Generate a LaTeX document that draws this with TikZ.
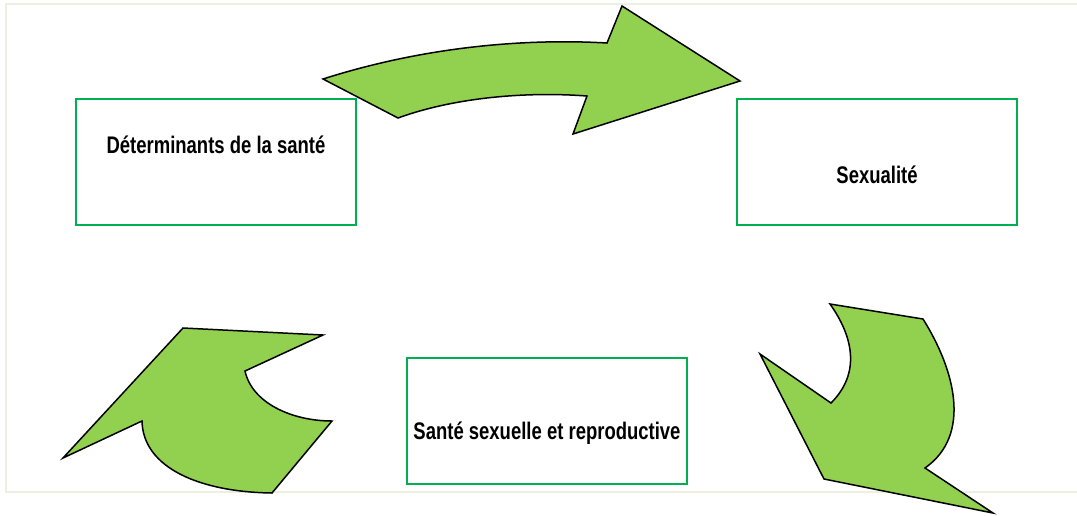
\documentclass[tikz,border=0pt]{standalone}
\usepackage{fontspec}
\setmainfont{Liberation Sans}[FakeStretch=0.77]
\usepackage{tikz}

\begin{document}
\begin{tikzpicture}[x=1pt,y=-1pt]

% Colors
\definecolor{boxgreen}{RGB}{0,176,80}     % box border
\definecolor{arrowgreen}{RGB}{146,208,80} % arrow fill
\definecolor{framegray}{RGB}{235,240,225} % outer frame

\tikzset{
  box/.style={draw=boxgreen, line width=2pt, minimum width=280pt, minimum height=126pt, inner sep=0pt, outer sep=0pt},
  boxtext/.style={font=\fontsize{24}{28}\selectfont\bfseries, inner sep=0pt},
  bigarrow/.style={draw=black, fill=arrowgreen, line width=1.5pt, line join=miter}
}

\useasboundingbox (0,0) rectangle (1077,515);

% === Frame ===
\draw[framegray, line width=2pt] (1090,4) -- (6,4) -- (6,492) -- (1090,492);

% === Boxes ===
\node[box] (det) at (216,162) {};
\node[boxtext] (dettext) at ([yshift=17pt]det.center) {Déterminants de la santé};

\node[box] (sex) at (877,162) {};
\node[boxtext] (sextext) at ([yshift=-13pt]sex.center) {Sexualité};

\node[box] (ssr) at (547,420.5) {};
\node[boxtext] (ssrtext) at ([yshift=-12.5pt]ssr.center) {Santé sexuelle et reproductive};

% === Arrow top ===
\draw[bigarrow] (323,79) .. controls (420,48) and (520,38) .. (607,43)
  -- (622,6) -- (740,81) -- (573,134) -- (587,96)
  .. controls (520,91) and (450,99) .. (398,118) -- cycle;

% === Arrow right ===
\draw[bigarrow] (830,304) -- (923,319)
  .. controls (955,370) and (972,435) .. (925,468)
  -- (993,513) -- (824,479) -- (760,354) -- (831,403)
  .. controls (862,372) and (852,335) .. (830,304) -- cycle;

% === Arrow left ===
\draw[bigarrow] (63,458) -- (183,328) -- (323,335) -- (245,371)
  .. controls (252,403) and (292,421) .. (332,421)
  -- (272,493)
  .. controls (200,492) and (143,468) .. (142,421) -- cycle;

\end{tikzpicture}
\end{document}
